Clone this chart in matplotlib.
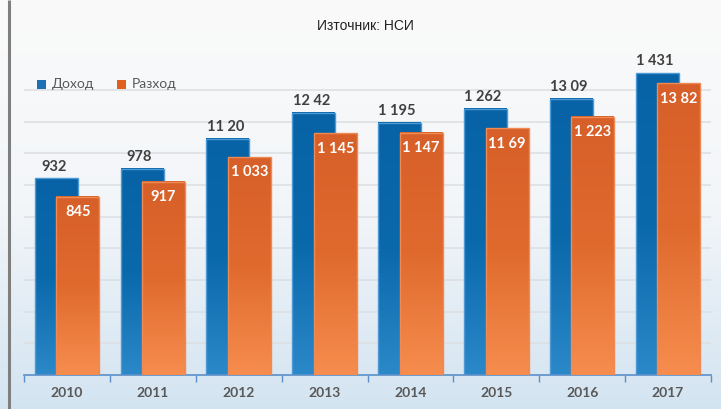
import numpy as np
import matplotlib
matplotlib.use("Agg")
import matplotlib.pyplot as plt
from matplotlib.colors import LinearSegmentedColormap
from matplotlib.patches import Rectangle

years = ["2010", "2011", "2012", "2013", "2014", "2015", "2016", "2017"]
income = [932, 978, 1120, 1242, 1195, 1262, 1309, 1431]
expense = [845, 917, 1033, 1145, 1147, 1169, 1223, 1382]
income_labels = ["932", "978", "11 20", "12 42", "1 195", "1 262", "13 09", "1 431"]
expense_labels = ["845", "917", "1 033", "1 145", "1 147", "11 69", "1 223", "13 82"]
series_names = ["Доход", "Разход"]
source_text = "Източник: НСИ"

W, H = 721, 409
fig = plt.figure(figsize=(W / 100, H / 100), dpi=100)

# background gradient
bg = fig.add_axes([0, 0, 1, 1], zorder=-10)
bg_cmap = LinearSegmentedColormap.from_list("bg", ["#fafafa", "#f3f6f9", "#d3e4f1"])
grad = np.linspace(0, 1, 256).reshape(-1, 1)
bg.imshow(grad, cmap=bg_cmap, aspect="auto", extent=[0, 1, 0, 1], origin="upper")
bg.set_xlim(0, 1)
bg.set_ylim(0, 1)
bg.axis("off")
bg.plot([8.5 / W, 8.5 / W], [0, 1], color="#7f7f7f", lw=2.2, solid_capstyle="butt")

ax_left, ax_right = 24 / W, 711 / W
ax_bottom = (H - 375) / H
ax_top = (H - 58.5) / H
ax = fig.add_axes([ax_left, ax_bottom, ax_right - ax_left, ax_top - ax_bottom])
ax.patch.set_alpha(0)

n = len(years)
x = np.arange(n)
ax.set_xlim(-0.5, n - 0.5)
ax.set_ylim(0, 1500)

for gy in range(150, 1500, 150):
    ax.axhline(gy, color="#dcdfe2", lw=1.1, zorder=0)

blue_cmap = LinearSegmentedColormap.from_list("b", ["#0763a6", "#0a69ab", "#2b88c9"])
orange_cmap = LinearSegmentedColormap.from_list("o", ["#d75f29", "#e06a2e", "#f68d4e"])

bw = 0.5
off = 0.125

def grad_bar(xc, h, cmap, edge, z):
    x0 = xc - bw / 2
    ax.imshow(grad, cmap=cmap, aspect="auto", extent=[x0, x0 + bw, 0, h],
              origin="upper", zorder=z)
    ax.add_patch(Rectangle((x0, 0), bw, h, fill=False, edgecolor=edge, lw=1.0, zorder=z + 0.1))

for i in range(n):
    grad_bar(x[i] - off, income[i], blue_cmap, "#4d9ad6", 2)
    grad_bar(x[i] + off, expense[i], orange_cmap, "#f08a55", 3)
    ax.text(x[i] - off - 0.03, income[i] + 55, income_labels[i], ha="center", va="center",
            fontsize=10.5, fontweight="bold", color="#404040", family=["Lato", "DejaVu Sans"], zorder=5)
    ax.text(x[i] + off, expense[i] - 72, expense_labels[i], ha="center", va="center",
            fontsize=10.5, fontweight="bold", color="white", family=["Lato", "DejaVu Sans"], zorder=5)

ax.set_xlim(-0.5, n - 0.5)
ax.set_ylim(0, 1500)

for s in ["top", "right", "left"]:
    ax.spines[s].set_visible(False)
ax.spines["bottom"].set_color("#5b8fc9")
ax.spines["bottom"].set_linewidth(1.2)
ax.set_yticks([])
ax.set_xticks(np.arange(-0.5, n, 1.0))
ax.set_xticklabels([])
ax.tick_params(axis="x", length=5, color="#5b8fc9", width=1.0)
for i in range(n):
    ax.text(x[i], -85, years[i], ha="center", va="center", fontsize=10, fontweight="bold",
            color="#595959", family=["Lato", "DejaVu Sans"])

# legend
fig.patches.append(Rectangle((37 / W, (H - 89) / H), 9 / W, 9 / H, transform=fig.transFigure,
                             facecolor="#1f6fb4", edgecolor="none"))
fig.text(52 / W, (H - 84.5) / H, series_names[0], fontsize=10, color="#595959",
         va="center", ha="left", family=["Lato", "DejaVu Sans"])
fig.patches.append(Rectangle((117 / W, (H - 89) / H), 9 / W, 9 / H, transform=fig.transFigure,
                             facecolor="#e0601d", edgecolor="none"))
fig.text(132 / W, (H - 84.5) / H, series_names[1], fontsize=10, color="#595959",
         va="center", ha="left", family=["Lato", "DejaVu Sans"])

fig.text(365 / W, (H - 26) / H, source_text, fontsize=10, color="#222222", ha="center", va="center",
         family=["Liberation Sans", "DejaVu Sans"])

fig.savefig("out.png", dpi=100)
